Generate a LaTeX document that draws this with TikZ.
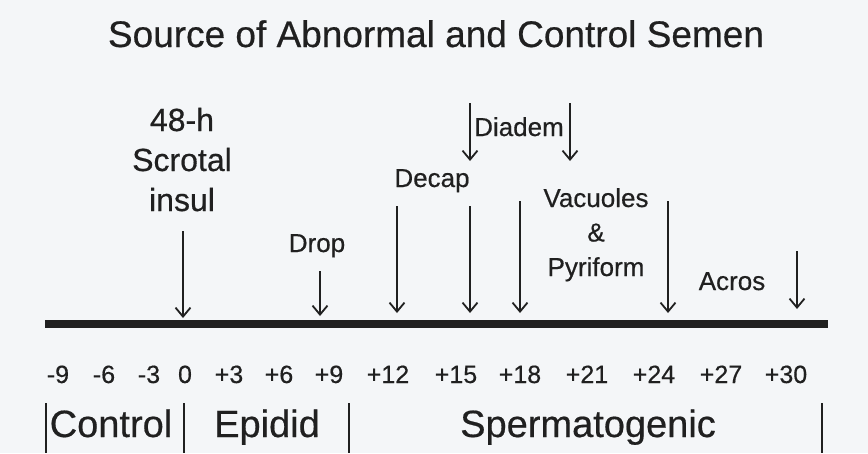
\documentclass[tikz,border=0pt]{standalone}
\usepackage{fontspec}
\setmainfont{Liberation Sans}[FakeBold=0.5]
\usetikzlibrary{arrows.meta}
\definecolor{paper}{RGB}{244,246,248}
\definecolor{ink}{RGB}{32,32,32}
\tikzset{
  lbl/.style={inner sep=0pt, align=center, text=ink, font=\fontsize{26}{34.5}\selectfont},
  daynum/.style={inner sep=0pt, text=ink, font=\fontsize{25}{30}\selectfont},
  phase/.style={inner sep=0pt, text=ink, font=\fontsize{38}{44}\selectfont},
  pointer/.style={draw=ink, line width=2pt, -{Straight Barb[length=9pt,width=15pt,line width=1.8pt]}},
  divider/.style={draw=ink, line width=1.8pt}
}
\begin{document}
\begin{tikzpicture}[x=1pt,y=-1pt]
\fill[paper] (0,0) rectangle (868,453);
\useasboundingbox (0,0) rectangle (868,453);

% title
\node[phase, font=\fontsize{37}{44}\selectfont, anchor=base] (title) at (436,47) {Source of Abnormal and Control Semen};

% time axis
\coordinate (axL) at (45,324);
\coordinate (axR) at (828,324);
\draw[ink, line width=8pt] (axL) -- (axR);

% days
\foreach \x/\d [count=\i] in {58/-9,104/-6,149/-3,185/0,229/+3,279/+6,329/+9,388/+12,456/+15,520/+18,587/+21,654/+24,721/+27,786/+30}
  \node[daynum, anchor=base] (day\i) at (\x,383) {\d};

% abnormalities (base = last line)
\node[lbl, font=\fontsize{32}{40}\selectfont, anchor=base] (insul) at (182,211) {48-h\\Scrotal\\insul};
\node[lbl, anchor=base] (drop) at (317,252) {Drop};
\node[lbl, anchor=base] (decap) at (432,187) {Decap};
\node[lbl, anchor=base] (diadem) at (519,136) {Diadem};
\node[lbl, anchor=base] (vacuoles) at (596,276) {Vacuoles\\\&\\Pyriform};
\node[lbl, anchor=base] (acros) at (732,290) {Acros};

% arrows
\foreach \x/\top/\bot [count=\i] in {183/231/318,320/271/316,397/206/313,470/206/313,520/201/313,668/201/313,797/251/309,470/103/161,570/103/161}{
  \coordinate (from\i) at (\x,\top);
  \coordinate (to\i) at (\x,\bot);
  \draw[pointer] (from\i) -- (to\i);
}

% phases
\foreach \x [count=\i] in {46,184,349,822}{
  \coordinate (sepA\i) at (\x,403);
  \coordinate (sepB\i) at (\x,453);
  \draw[divider] (sepA\i) -- (sepB\i);
}
\node[phase, anchor=base] (control) at (111,437) {Control};
\node[phase, anchor=base] (epidid) at (267,437) {Epidid};
\node[phase, anchor=base] (sperm) at (588,437) {Spermatogenic};
\end{tikzpicture}
\end{document}
